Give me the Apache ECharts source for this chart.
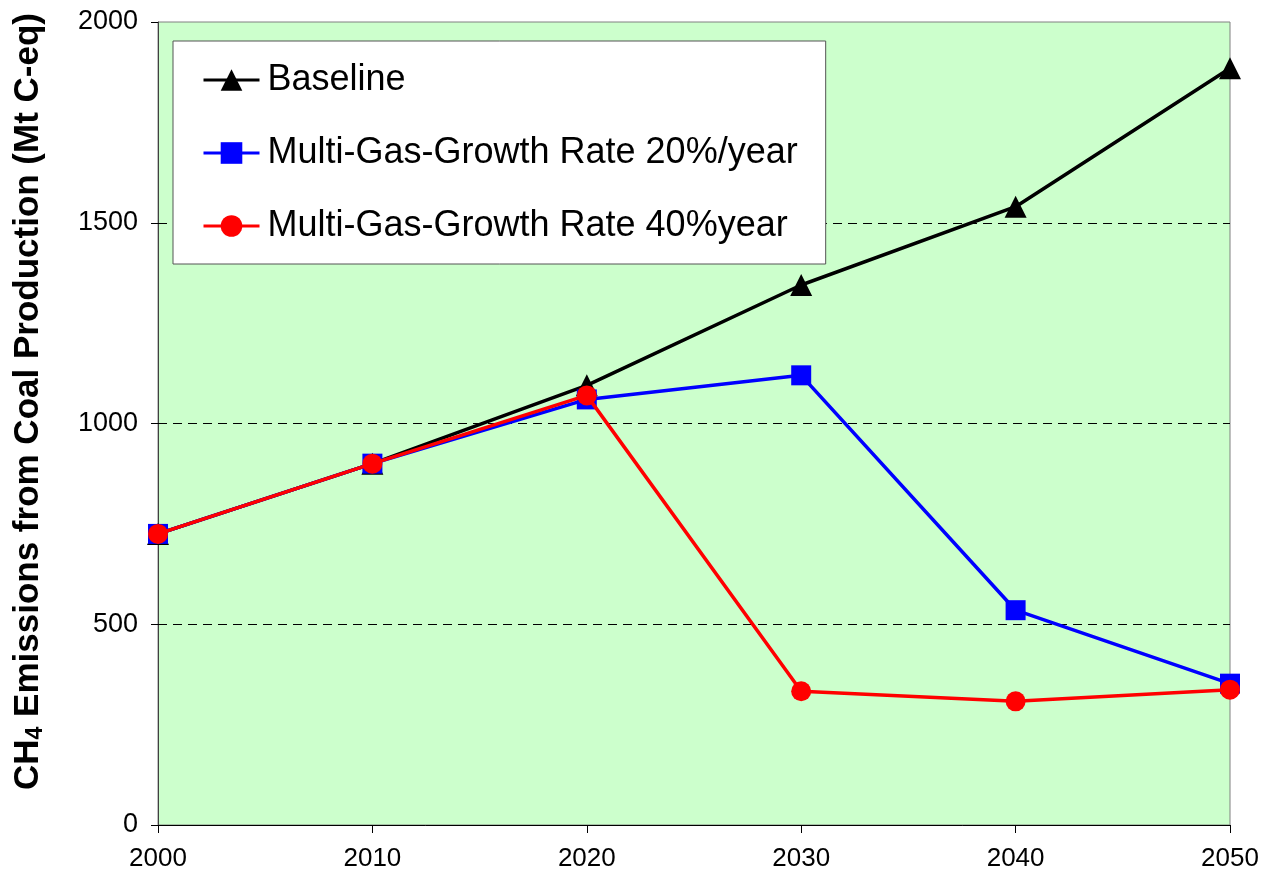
<!DOCTYPE html>
<html>
<head>
<meta charset="utf-8">
<script src="https://cdn.jsdelivr.net/npm/echarts@6/dist/echarts.min.js"></script>
<style>
  html, body { margin: 0; padding: 0; background: #fff; }
  #chart { width: 1266px; height: 879px; }
</style>
</head>
<body>
<div id="chart"></div>
<script>
// years on the x axis
var years = ['2000', '2010', '2020', '2030', '2040', '2050']
// CH4 emissions, Mt C-eq
var baseline = [725, 900, 1095, 1345, 1540, 1885]
var growth20 = [725, 900, 1060, 1120, 535, 352]
var growth40 = [725, 900, 1070, 333, 308, 337]
// dashed reference lines
var gridValues = [500, 1000, 1500]

var chart = echarts.init(document.getElementById('chart'))

var font = 'Arial, "Liberation Sans", sans-serif'

chart.setOption({
  animation: false,
  textStyle: { fontFamily: font, color: '#000' },
  grid: {
    left: 158,
    right: 36,
    top: 22,
    bottom: 54,
    show: true,
    backgroundColor: '#CCFFCC',
    borderColor: '#808080',
    borderWidth: 1
  },
  legend: {
    orient: 'vertical',
    left: 173,
    top: 41,
    padding: [21, 28, 20, 29],
    backgroundColor: '#fff',
    borderColor: '#555',
    borderWidth: 1,
    itemWidth: 56,
    itemHeight: 27,
    itemGap: 37,
    lineStyle: { width: 3 },
    textStyle: { fontSize: 36, fontFamily: font, color: '#000', lineHeight: 36, padding: [0, 0, 0, 3] },
    data: ['Baseline', 'Multi-Gas-Growth Rate 20%/year', 'Multi-Gas-Growth Rate 40%year']
  },
  xAxis: {
    type: 'category',
    data: years,
    boundaryGap: false,
    axisLine: { lineStyle: { color: '#000', width: 1 } },
    axisTick: { alignWithLabel: true, length: 8, lineStyle: { color: '#000' } },
    axisLabel: { fontSize: 26, color: '#000', margin: 21 },
    splitLine: { show: false }
  },
  yAxis: {
    type: 'value',
    min: 0,
    max: 2000,
    interval: 500,
    name: '{b|CH}{s|4}{b| Emissions from Coal Production (Mt C-eq)}',
    nameLocation: 'middle',
    nameRotate: 90,
    nameGap: 111,
    nameTextStyle: {
      padding: [0, 0, 0, 44],
      rich: {
        b: { fontSize: 35, fontWeight: 'bold', fontFamily: font, color: '#000' },
        s: { fontSize: 23, fontWeight: 'bold', fontFamily: font, color: '#000', padding: [14, 0, 0, 0] }
      }
    },
    axisLine: { show: true, lineStyle: { color: '#404040', width: 1 } },
    axisTick: { show: true, length: 7, lineStyle: { color: '#000' } },
    axisLabel: {
      fontSize: 27,
      color: '#000',
      margin: 20,
      formatter: function (v) { return String(v) }
    },
    splitLine: { show: false }
  },
  series: [
    {
      name: 'Baseline',
      type: 'line',
      data: baseline,
      symbol: 'triangle',
      symbolSize: 22,
      color: '#000',
      lineStyle: { color: '#000', width: 3.5 },
      itemStyle: { color: '#000' },
      z: 2,
      markLine: {
        silent: true,
        symbol: 'none',
        label: { show: false },
        lineStyle: { color: '#000', type: [9, 6], width: 1 },
        data: gridValues.map(function (v) { return { yAxis: v } }),
        z: 1
      }
    },
    {
      name: 'Multi-Gas-Growth Rate 20%/year',
      type: 'line',
      data: growth20,
      symbol: 'rect',
      symbolSize: 20,
      color: '#0000FF',
      lineStyle: { color: '#0000FF', width: 3.5 },
      itemStyle: { color: '#0000FF' },
      z: 3
    },
    {
      name: 'Multi-Gas-Growth Rate 40%year',
      type: 'line',
      data: growth40,
      symbol: 'circle',
      symbolSize: 20,
      color: '#FF0000',
      lineStyle: { color: '#FF0000', width: 3.5 },
      itemStyle: { color: '#FF0000' },
      z: 4
    }
  ]
})
</script>
</body>
</html>
